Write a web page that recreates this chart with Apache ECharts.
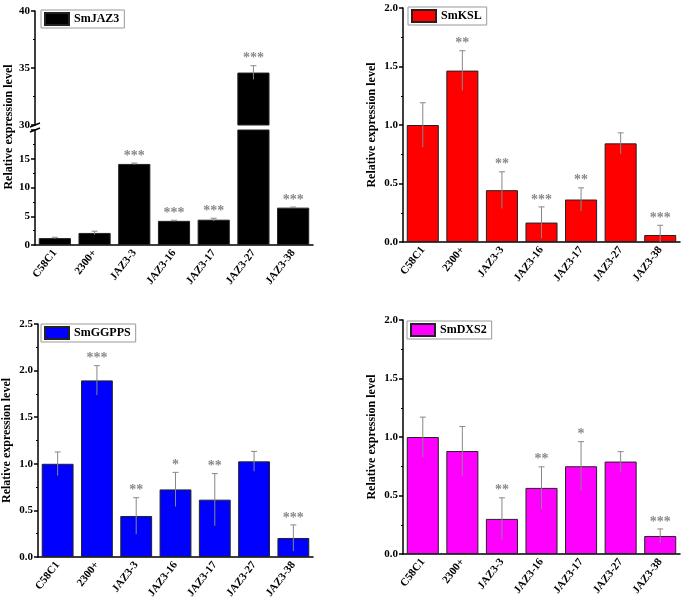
<!DOCTYPE html>
<html lang="en">
<head>
    <meta charset="UTF-8">
    <title>Relative expression</title>
    <script src="https://cdn.jsdelivr.net/npm/echarts@6/dist/echarts.min.js"></script>
    <style>
        html, body { margin: 0; padding: 0; background: #fff; }
    </style>
</head>
<body>
<div id="main" style="width:685px;height:601px"></div>
<script>
    var categories = ['C58C1', '2300+', 'JAZ3-3', 'JAZ3-16', 'JAZ3-17', 'JAZ3-27', 'JAZ3-38'];

    var jaz3Mean = [1.2, 2.1, 14.1, 4.2, 4.4, 34.6, 6.5];
    var jaz3Err = [0.15, 0.3, 0.15, 0.1, 0.25, 0.6, 0.1];
    var jaz3Sig = ['', '', '***', '***', '***', '***', '***'];

    var kslMean = [1.0, 1.465, 0.443, 0.166, 0.363, 0.843, 0.06];
    var kslErr = [0.19, 0.17, 0.157, 0.134, 0.10, 0.09, 0.083];
    var kslSig = ['', '**', '**', '***', '**', '', '***'];

    var ggppsMean = [1.0, 1.895, 0.44, 0.725, 0.615, 1.026, 0.204];
    var ggppsErr = [0.127, 0.158, 0.196, 0.183, 0.28, 0.107, 0.14];
    var ggppsSig = ['', '***', '**', '*', '**', '', '***'];

    var dxs2Mean = [1.0, 0.88, 0.30, 0.565, 0.75, 0.79, 0.154];
    var dxs2Err = [0.17, 0.21, 0.18, 0.18, 0.21, 0.085, 0.06];
    var dxs2Sig = ['', '', '**', '**', '*', '', '***'];

    var FONT = 'Liberation Serif';
    var yName = 'Relative expression level';

    var chart = echarts.init(document.getElementById('main'));

    function xAxisOf(gridIndex, showAll) {
        return {
            type: 'category',
            gridIndex: gridIndex,
            data: categories,
            show: showAll,
            axisLine: { lineStyle: { color: '#000', width: 1.5 } },
            axisTick: { length: 4, lineStyle: { color: '#000', width: 1.5 } },
            axisLabel: {
                interval: 0, rotate: 52, margin: 6,
                fontFamily: FONT, fontWeight: 'bold', fontSize: 11, color: '#000'
            }
        };
    }

    function yAxisOf(gridIndex, min, max, interval, digits, name) {
        return {
            type: 'value',
            gridIndex: gridIndex,
            min: min, max: max, interval: interval,
            name: name || '',
            nameLocation: 'middle',
            nameGap: 25,
            nameTextStyle: { fontFamily: FONT, fontWeight: 'bold', fontSize: 12, color: '#000' },
            splitLine: { show: false },
            axisLine: { show: true, lineStyle: { color: '#000', width: 1.5 } },
            axisTick: { show: true, length: 4, lineStyle: { color: '#000', width: 1.5 } },
            minorTick: { show: true, splitNumber: 2, length: 2, lineStyle: { color: '#000', width: 1 } },
            axisLabel: {
                margin: 5, fontFamily: FONT, fontWeight: 'bold', fontSize: 11, color: '#000',
                formatter: function (v) {
                    if (gridIndex === 1 && v === 20) return '';
                    return v.toFixed(digits);
                }
            }
        };
    }

    function barSeries(name, means, color, axisIndex) {
        return {
            name: name,
            type: 'bar',
            xAxisIndex: axisIndex, yAxisIndex: axisIndex,
            barWidth: '81%',
            clip: true,
            itemStyle: { color: color, borderColor: '#222', borderWidth: 1 },
            data: means
        };
    }

    function errSeries(means, errs, sigs, axisIndex, yMin, yMax) {
        var d = means.map(function (m, i) { return [i, m, errs[i]]; });
        return {
            type: 'custom',
            xAxisIndex: axisIndex, yAxisIndex: axisIndex,
            z: 5,
            data: d,
            renderItem: function (params, api) {
                var i = api.value(0), m = api.value(1), e = api.value(2);
                var s = sigs[params.dataIndex];
                if (m + e > yMax || m + e < yMin) return;
                var top = api.coord([i, m + e]);
                var bot = api.coord([i, Math.max(m - e, yMin)]);
                var children = [
                    { type: 'line', shape: { x1: top[0], y1: top[1], x2: bot[0], y2: bot[1] },
                      style: { stroke: '#888', lineWidth: 1 } },
                    { type: 'line', shape: { x1: top[0] - 3, y1: top[1], x2: top[0] + 3, y2: top[1] },
                      style: { stroke: '#888', lineWidth: 1 } }
                ];
                if (s) {
                    children.push({
                        type: 'text',
                        x: top[0], y: top[1] + 0,
                        style: {
                            text: s, fill: '#888',
                            font: 'bold 14px "' + FONT + '"',
                            align: 'center', verticalAlign: 'bottom'
                        }
                    });
                }
                return { type: 'group', children: children };
            }
        };
    }

    function legendOf(name, left, top) {
        return {
            data: [name],
            left: left, top: top,
            padding: [2, 5, 2, 3],
            itemGap: 6,
            itemWidth: 24, itemHeight: 12,
            icon: 'rect',
            borderColor: '#999', borderWidth: 1,
            textStyle: { fontFamily: FONT, fontWeight: 'bold', fontSize: 12, color: '#000' },
            selectedMode: false
        };
    }

    var option = {
        backgroundColor: '#fff',
        animation: false,
        grid: [
            { left: 35, top: 11, width: 278, height: 114 },   // SmJAZ3 upper (30-40)
            { left: 35, top: 130, width: 278, height: 115 },  // SmJAZ3 lower (0-20)
            { left: 403, top: 8, width: 277, height: 234 },   // SmKSL
            { left: 35, top: 324, width: 278, height: 233 },  // SmGGPPS
            { left: 403, top: 320, width: 277, height: 234 }  // SmDXS2
        ],
        xAxis: [
            xAxisOf(0, false),
            xAxisOf(1, true),
            xAxisOf(2, true),
            xAxisOf(3, true),
            xAxisOf(4, true)
        ],
        yAxis: [
            yAxisOf(0, 30, 40, 5, 0),
            yAxisOf(1, 0, 20, 5, 0),
            yAxisOf(2, 0, 2, 0.5, 1, yName),
            yAxisOf(3, 0, 2.5, 0.5, 1, yName),
            yAxisOf(4, 0, 2, 0.5, 1, yName)
        ],
        legend: [
            legendOf('SmJAZ3', 41, 10),
            legendOf('SmKSL', 408, 7),
            legendOf('SmGGPPS', 41, 324),
            legendOf('SmDXS2', 407, 321)
        ],
        graphic: [
            { type: 'text', x: 9, y: 127, rotation: Math.PI / 2,
              style: { text: yName, font: 'bold 12px "' + FONT + '"', fill: '#000',
                       align: 'center', verticalAlign: 'middle' } },
            { type: 'line', shape: { x1: 30, y1: 127, x2: 40, y2: 123 },
              style: { stroke: '#000', lineWidth: 1.5 } },
            { type: 'line', shape: { x1: 30, y1: 132, x2: 40, y2: 128 },
              style: { stroke: '#000', lineWidth: 1.5 } }
        ],
        series: [
            barSeries('SmJAZ3', jaz3Mean, '#000', 0),
            barSeries('SmJAZ3', jaz3Mean, '#000', 1),
            errSeries(jaz3Mean, jaz3Err, jaz3Sig, 0, 30, 40),
            errSeries(jaz3Mean, jaz3Err, jaz3Sig, 1, 0, 20),
            barSeries('SmKSL', kslMean, '#ff0000', 2),
            errSeries(kslMean, kslErr, kslSig, 2, 0, 2),
            barSeries('SmGGPPS', ggppsMean, '#0000ff', 3),
            errSeries(ggppsMean, ggppsErr, ggppsSig, 3, 0, 2.5),
            barSeries('SmDXS2', dxs2Mean, '#ff00ff', 4),
            errSeries(dxs2Mean, dxs2Err, dxs2Sig, 4, 0, 2)
        ]
    };
    chart.setOption(option);
</script>
</body>
</html>
